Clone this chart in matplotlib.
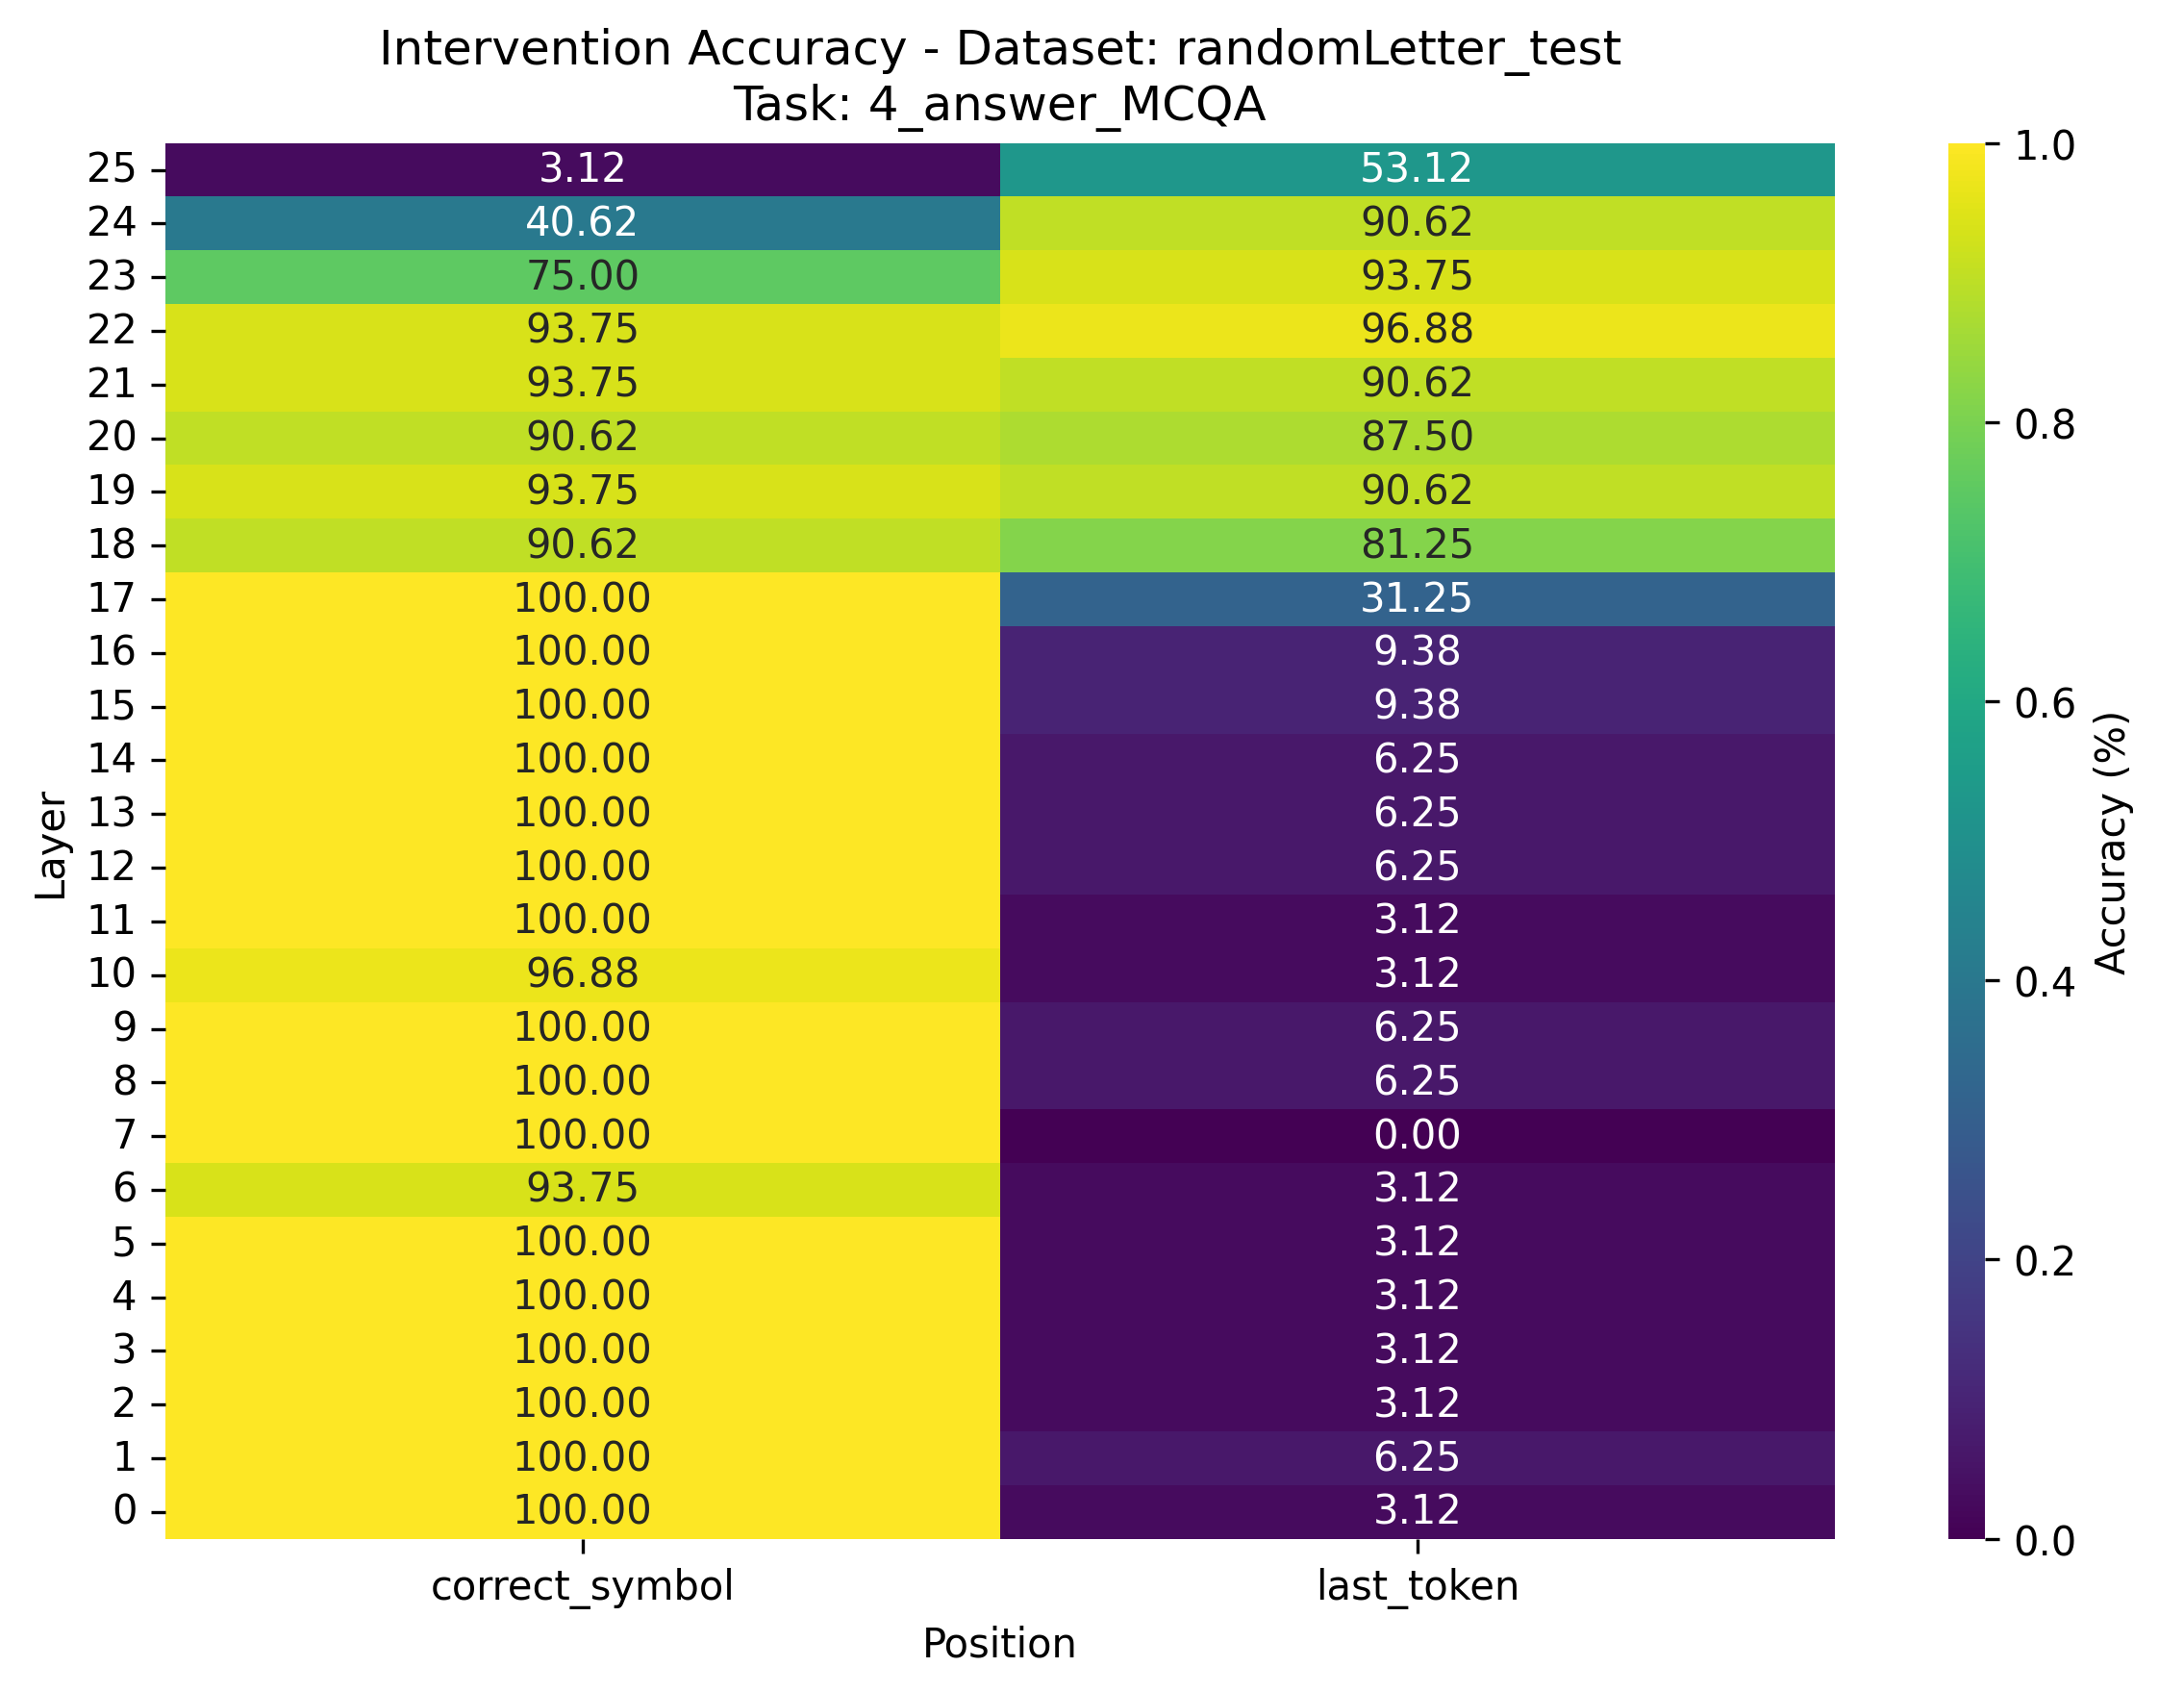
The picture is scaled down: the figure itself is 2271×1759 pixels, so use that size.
import numpy as np
import pandas as pd
import matplotlib
matplotlib.use("Agg")
import matplotlib.pyplot as plt
import seaborn as sns

layers = list(range(26))
positions = ["correct_symbol", "last_token"]

# accuracy in percent, layer 0 .. 25
correct_symbol = [100.00, 100.00, 100.00, 100.00, 100.00, 100.00, 93.75, 100.00,
                  100.00, 100.00, 96.88, 100.00, 100.00, 100.00, 100.00, 100.00,
                  100.00, 100.00, 90.62, 93.75, 90.62, 93.75, 93.75, 75.00,
                  40.62, 3.12]
last_token = [3.12, 6.25, 3.12, 3.12, 3.12, 3.12, 3.12, 0.00, 6.25, 6.25, 3.12,
              3.12, 6.25, 6.25, 6.25, 9.38, 9.38, 31.25, 81.25, 90.62, 87.50,
              90.62, 96.88, 93.75, 90.62, 53.12]

df = pd.DataFrame({"correct_symbol": correct_symbol, "last_token": last_token},
                  index=layers)
df = df.iloc[::-1]
vals = df / 100.0
annot = df.map(lambda v: f"{v:.2f}")

fig = plt.figure(figsize=(2271 / 300, 1760 / 300), dpi=300)
ax = fig.add_axes([0.0756, 0.0905, 0.7645, 0.8245])
cax = fig.add_axes([0.892, 0.0905, 0.017, 0.8245])
sns.heatmap(vals, ax=ax, cbar_ax=cax, annot=annot, fmt="", cmap="viridis",
            vmin=0, vmax=1, cbar_kws={"label": "Accuracy (%)"})
ax.set_yticklabels(ax.get_yticklabels(), rotation=0)
ax.set_xlabel("Position")
ax.set_ylabel("Layer")
ax.set_title("Intervention Accuracy - Dataset: randomLetter_test\nTask: 4_answer_MCQA")
plt.savefig("out.png", dpi=300)
